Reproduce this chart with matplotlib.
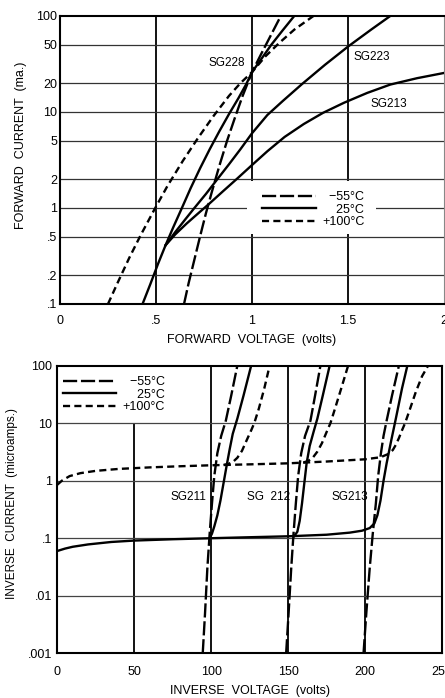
import numpy as np
import matplotlib
matplotlib.use("Agg")
import matplotlib.pyplot as plt
import matplotlib.patches as mpatches
from matplotlib.lines import Line2D

plt.rcParams["font.family"] = ["Liberation Sans", "DejaVu Sans"]

# ---- forward characteristics (volts, mA) ---------------------------------
F_SG228_25_V = [0.43, 0.47, 0.51, 0.55, 0.59, 0.63, 0.68, 0.73, 0.78, 0.83,
                0.88, 0.93, 0.97, 1.00, 1.05, 1.10, 1.16, 1.22]
F_SG228_25_I = [0.1, 0.16, 0.26, 0.41, 0.63, 0.95, 1.6, 2.6, 4.1, 6.3,
                9.5, 14, 19.5, 26, 36, 50, 71, 100]
F_SG223_25_V = [0.55, 0.60, 0.65, 0.70, 0.76, 0.82, 0.88, 0.94, 1.00, 1.08,
                1.16, 1.26, 1.38, 1.50, 1.62, 1.72]
F_SG223_25_I = [0.41, 0.56, 0.75, 1.0, 1.4, 2.0, 2.85, 4.1, 6.0, 9.3,
                13, 19.5, 31, 48, 72, 100]
F_SG213_25_V = [0.55, 0.60, 0.66, 0.72, 0.78, 0.85, 0.92, 1.00, 1.08, 1.17,
                1.27, 1.37, 1.48, 1.60, 1.72, 1.86, 2.00]
F_SG213_25_I = [0.41, 0.53, 0.69, 0.88, 1.12, 1.5, 2.0, 2.8, 3.9, 5.5,
                7.5, 9.8, 12.5, 15.8, 19.3, 22.5, 25.5]
F_M55_V = [0.646, 0.67, 0.70, 0.73, 0.76, 0.79, 0.83, 0.87, 0.91, 0.95,
           1.00, 1.05, 1.10, 1.15]
F_M55_I = [0.1, 0.165, 0.29, 0.51, 0.88, 1.45, 2.75, 5.0, 8.6, 14.5,
           26, 41, 64, 100]
F_P100_V = [0.25, 0.30, 0.36, 0.42, 0.49, 0.56, 0.64, 0.72, 0.80, 0.88,
            0.94, 1.00, 1.07, 1.14, 1.22, 1.32]
F_P100_I = [0.1, 0.166, 0.3, 0.52, 0.95, 1.7, 3.1, 5.4, 9.1, 14.7,
            20, 26, 38, 52, 72, 100]

F_XTICKS = [0, 0.5, 1, 1.5, 2]
F_XLABELS = ["0", ".5", "1", "1.5", "2"]
F_YTICKS = [0.1, 0.2, 0.5, 1, 2, 5, 10, 20, 50, 100]
F_YLABELS = [".1", ".2", ".5", "1", "2", "5", "10", "20", "50", "100"]

# ---- reverse characteristics (volts, microamps) --------------------------
R_25_V = [0, 5, 10, 20, 35, 50, 75, 100, 125, 150, 175, 190, 198, 203, 206,
          208, 210, 212, 214, 217, 220, 224, 227.5]
R_25_I = [0.060, 0.066, 0.071, 0.078, 0.086, 0.091, 0.096, 0.100, 0.104,
          0.108, 0.115, 0.125, 0.135, 0.150, 0.18, 0.25, 0.45, 1.0, 2.0, 5.0,
          12, 40, 100]
R_SG211_25_V = [99, 100.5, 102, 104, 106, 108, 110, 112, 114, 117, 121, 126]
R_SG211_25_I = [0.1, 0.12, 0.16, 0.25, 0.45, 0.9, 1.8, 3.5, 6.5, 12, 30, 100]
R_SG212_25_V = [154, 156, 157.5, 159, 160.5, 162, 164, 166.5, 169, 172.5, 177]
R_SG212_25_I = [0.109, 0.13, 0.2, 0.4, 0.9, 2.0, 4.0, 7.0, 12, 30, 100]

R_M55_I = [0.001, 0.005, 0.03, 0.12, 0.4, 1.2, 3.0, 6.0, 11, 30, 100]
R_SG211_M55_V = [94.5, 96, 97.5, 99, 100.5, 102, 104, 106.5, 109.5, 113, 117]
R_SG212_M55_V = [148.7, 150.3, 152, 153.5, 155, 156.5, 158.5, 161, 164.5, 167.5, 171]
R_SG213_M55_V = [199, 200.8, 203, 205, 207, 208.5, 210.3, 212, 214, 217.5, 222]

R_P100_V = [0, 3, 8, 15, 25, 40, 60, 80, 100, 125, 150, 175, 200, 210, 215,
            218, 220, 222, 224, 226, 229, 233, 237, 241]
R_P100_I = [0.85, 1.0, 1.2, 1.35, 1.48, 1.6, 1.7, 1.78, 1.85, 1.92, 2.0, 2.15,
            2.35, 2.55, 2.9, 3.4, 4.2, 5.5, 7.5, 10, 17, 35, 65, 100]
R_SG211_P100_V = [108, 111, 114, 117, 120, 123, 126, 128, 131, 134.5, 138]
R_SG211_P100_I = [1.87, 1.95, 2.1, 2.5, 3.3, 5, 7.5, 10, 18, 40, 100]
R_SG212_P100_V = [160, 163, 166, 169, 172, 175, 177.5, 180.5, 184.5, 189]
R_SG212_P100_I = [2.07, 2.2, 2.5, 3.2, 4.5, 7, 10, 18, 40, 100]

R_XTICKS = [0, 50, 100, 150, 200, 250]
R_XLABELS = ["0", "50", "100", "150", "200", "250"]
R_YTICKS = [0.001, 0.01, 0.1, 1, 10, 100]
R_YLABELS = [".001", ".01", ".1", "1", "10", "100"]

LONG = (0, (6, 1.6))
SHORT = (0, (3, 1.8))
LW = 1.7
TEMPS = ["  \u221255\u00b0C", "    25\u00b0C", "+100\u00b0C"]

fig = plt.figure(figsize=(4.45, 6.98), dpi=100)
ax1 = fig.add_axes([0.1348, 0.5645, 0.863, 0.4126])
ax2 = fig.add_axes([0.1288, 0.064, 0.8645, 0.4123])


def style_axes(ax):
    ax.set_yscale("log")
    ax.tick_params(length=0, labelsize=9)
    for s in ax.spines.values():
        s.set_linewidth(1.5)
        s.set_color("black")


# --- top: forward ---------------------------------------------------------
style_axes(ax1)
ax1.set_xlim(0, 2)
ax1.set_ylim(0.1, 100)
ax1.set_xticks(F_XTICKS, F_XLABELS)
ax1.set_yticks(F_YTICKS, F_YLABELS)
ax1.minorticks_off()
ax1.tick_params(axis="y", pad=2)
ax1.tick_params(axis="x", pad=8)
ax1.spines["right"].set_color("#888888")
ax1.spines["right"].set_linewidth(0.8)
for x in [0.5, 1.0, 1.5]:
    ax1.axvline(x, color="black", lw=1.3, zorder=1)
for y in F_YTICKS[1:-1]:
    ax1.axhline(y, color="#333333", lw=0.9, zorder=1)

# white patch behind the legend (grid lines broken there)
ax1.add_patch(mpatches.Rectangle((0.975, 0.53), 0.67, 1.37, fc="white",
                                 ec="none", zorder=2))

ax1.plot(F_SG228_25_V, F_SG228_25_I, color="black", lw=LW, zorder=3)
ax1.plot(F_SG223_25_V, F_SG223_25_I, color="black", lw=LW, zorder=3)
ax1.plot(F_SG213_25_V, F_SG213_25_I, color="black", lw=LW, zorder=3)
ax1.plot(F_M55_V, F_M55_I, color="black", lw=LW, ls=LONG, zorder=3)
ax1.plot(F_P100_V, F_P100_I, color="black", lw=LW, ls=SHORT, zorder=3)

ax1.text(0.87, 32, "SG228", fontsize=8.5, ha="center", va="center")
ax1.text(1.625, 37, "SG223", fontsize=8.5, ha="center", va="center")
ax1.text(1.71, 12, "SG213", fontsize=8.5, ha="center", va="center")

handles = [Line2D([], [], color="black", lw=LW, ls=LONG),
           Line2D([], [], color="black", lw=LW),
           Line2D([], [], color="black", lw=LW, ls=SHORT)]
leg1 = ax1.legend(handles, TEMPS, loc="center", bbox_to_anchor=(0.66, 0.327),
                  fontsize=9, handlelength=4.3, handletextpad=0.5,
                  labelspacing=0.05, borderpad=0.3, frameon=False)
leg1.set_zorder(5)

ax1.set_xlabel("FORWARD  VOLTAGE  (volts)", fontsize=9, labelpad=5)
ax1.set_ylabel("FORWARD  CURRENT  (ma.)", fontsize=9)
ax1.yaxis.set_label_coords(-0.086, 0.55)

# --- bottom: reverse ------------------------------------------------------
style_axes(ax2)
ax2.set_xlim(0, 250)
ax2.set_ylim(0.001, 100)
ax2.set_xticks(R_XTICKS, R_XLABELS)
ax2.set_yticks(R_YTICKS, R_YLABELS)
ax2.minorticks_off()
ax2.tick_params(axis="y", pad=4)
ax2.tick_params(axis="x", pad=9)
ax2.vlines(50, 0.001, 10, color="black", lw=1.3, zorder=1)
for x in [100, 150, 200]:
    ax2.axvline(x, color="black", lw=1.3, zorder=1)
for y in R_YTICKS[1:-1]:
    ax2.axhline(y, color="#444444", lw=0.9, zorder=1)

ax2.plot(R_25_V, R_25_I, color="black", lw=LW, zorder=3)
ax2.plot(R_SG211_25_V, R_SG211_25_I, color="black", lw=LW, zorder=3)
ax2.plot(R_SG212_25_V, R_SG212_25_I, color="black", lw=LW, zorder=3)
for v in [R_SG211_M55_V, R_SG212_M55_V, R_SG213_M55_V]:
    ax2.plot(v, R_M55_I, color="black", lw=LW, ls=LONG, zorder=3)
ax2.plot(R_P100_V, R_P100_I, color="black", lw=LW, ls=SHORT, zorder=3)
ax2.plot(R_SG211_P100_V, R_SG211_P100_I, color="black", lw=LW, ls=SHORT, zorder=3)
ax2.plot(R_SG212_P100_V, R_SG212_P100_I, color="black", lw=LW, ls=SHORT, zorder=3)

ax2.text(85.3, 0.52, "SG211", fontsize=8.5, ha="center", va="center")
ax2.text(137, 0.52, "SG  212", fontsize=8.5, ha="center", va="center")
ax2.text(190, 0.52, "SG213", fontsize=8.5, ha="center", va="center")

leg2 = ax2.legend(handles, TEMPS, loc="center", bbox_to_anchor=(0.147, 0.899),
                  fontsize=9, handlelength=4.3, handletextpad=0.5,
                  labelspacing=0.05, borderpad=0.4, frameon=False)

ax2.set_xlabel("INVERSE  VOLTAGE  (volts)", fontsize=9, labelpad=5)
ax2.set_ylabel("INVERSE  CURRENT  (microamps.)", fontsize=8.5)
ax2.yaxis.set_label_coords(-0.102, 0.522)

fig.savefig("out.png", dpi=100)
